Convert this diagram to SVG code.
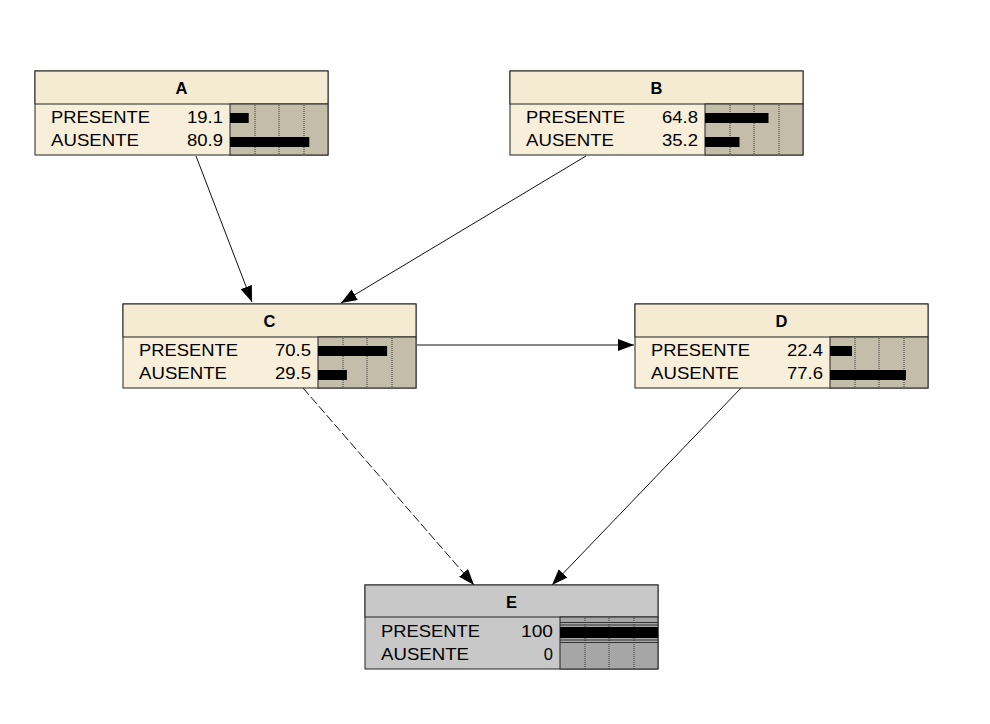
<svg xmlns="http://www.w3.org/2000/svg" width="990" height="724" viewBox="0 0 990 724">
<style>
.box{stroke:#222;stroke-width:1}
.title{fill:#f5ebd3}
.body{fill:#f8efdb}
.barbg{fill:#c4bda9}
.gtitle{fill:#c8c8c8}
.gbody{fill:#c8c8c8}
.gbarbg{fill:#a6a6a6}
.ln{stroke:#333;stroke-width:1;fill:none}
.dot{stroke:#333;stroke-width:1;stroke-dasharray:1,1}
.t{font-family:"Liberation Sans",Arial,sans-serif;font-size:16.5px;fill:#000}
.tt{font-family:"Liberation Sans",Arial,sans-serif;font-size:16.5px;font-weight:bold;fill:#000;text-anchor:middle}
.num{text-anchor:end}
.bar{fill:#000}
.edge{stroke:#111;stroke-width:1;fill:none}
</style>
<defs>
<marker id="arr" markerUnits="userSpaceOnUse" markerWidth="18" markerHeight="13" refX="16" refY="6" orient="auto">
<path d="M0,0 L16,6 L0,12 Z" fill="#000"/>
</marker>
</defs>
<rect width="990" height="724" fill="#fff"/>

<g id="connectors">
<line class="edge" x1="196" y1="156" x2="252" y2="302" marker-end="url(#arr)"/>
<line class="edge" x1="586" y1="156" x2="341" y2="303" marker-end="url(#arr)"/>
<line class="edge" x1="417" y1="345" x2="634" y2="345" marker-end="url(#arr)"/>
<line class="edge" x1="303" y1="388" x2="474" y2="585" stroke-dasharray="9,3" marker-end="url(#arr)"/>
<line class="edge" x1="741" y1="388" x2="552" y2="585" marker-end="url(#arr)"/>
</g>

<g id="node-A" transform="translate(35,71)">
<rect class="box body" x="0" y="0" width="293" height="84"/>
<rect class="box title" x="0" y="0" width="293" height="33"/>
<rect class="box barbg" x="195" y="33" width="98" height="51"/>
<line class="dot" x1="220" y1="34" x2="220" y2="84"/>
<line class="dot" x1="244" y1="34" x2="244" y2="84"/>
<line class="dot" x1="269" y1="34" x2="269" y2="84"/>
<rect class="bar" x="195" y="42" width="18.7" height="10"/>
<rect class="bar" x="195" y="66" width="79.3" height="10"/>
<text class="tt" x="146.5" y="23">A</text>
<text class="t" x="16" y="51.5" textLength="99" lengthAdjust="spacingAndGlyphs">PRESENTE</text>
<text class="t" x="16" y="74.7" textLength="88" lengthAdjust="spacingAndGlyphs">AUSENTE</text>
<text class="t num" x="188" y="51.5" textLength="36" lengthAdjust="spacingAndGlyphs">19.1</text>
<text class="t num" x="188" y="74.7" textLength="36" lengthAdjust="spacingAndGlyphs">80.9</text>
</g>

<g id="node-B" transform="translate(510,71)">
<rect class="box body" x="0" y="0" width="293" height="84"/>
<rect class="box title" x="0" y="0" width="293" height="33"/>
<rect class="box barbg" x="195" y="33" width="98" height="51"/>
<line class="dot" x1="220" y1="34" x2="220" y2="84"/>
<line class="dot" x1="244" y1="34" x2="244" y2="84"/>
<line class="dot" x1="269" y1="34" x2="269" y2="84"/>
<rect class="bar" x="195" y="42" width="63.5" height="10"/>
<rect class="bar" x="195" y="66" width="34.5" height="10"/>
<text class="tt" x="146.5" y="23">B</text>
<text class="t" x="16" y="51.5" textLength="99" lengthAdjust="spacingAndGlyphs">PRESENTE</text>
<text class="t" x="16" y="74.7" textLength="88" lengthAdjust="spacingAndGlyphs">AUSENTE</text>
<text class="t num" x="188" y="51.5" textLength="36" lengthAdjust="spacingAndGlyphs">64.8</text>
<text class="t num" x="188" y="74.7" textLength="36" lengthAdjust="spacingAndGlyphs">35.2</text>
</g>

<g id="node-C" transform="translate(123,304)">
<rect class="box body" x="0" y="0" width="293" height="84"/>
<rect class="box title" x="0" y="0" width="293" height="33"/>
<rect class="box barbg" x="195" y="33" width="98" height="51"/>
<line class="dot" x1="220" y1="34" x2="220" y2="84"/>
<line class="dot" x1="244" y1="34" x2="244" y2="84"/>
<line class="dot" x1="269" y1="34" x2="269" y2="84"/>
<rect class="bar" x="195" y="42" width="69.1" height="10"/>
<rect class="bar" x="195" y="66" width="28.9" height="10"/>
<text class="tt" x="146.5" y="23">C</text>
<text class="t" x="16" y="51.5" textLength="99" lengthAdjust="spacingAndGlyphs">PRESENTE</text>
<text class="t" x="16" y="74.7" textLength="88" lengthAdjust="spacingAndGlyphs">AUSENTE</text>
<text class="t num" x="188" y="51.5" textLength="36" lengthAdjust="spacingAndGlyphs">70.5</text>
<text class="t num" x="188" y="74.7" textLength="36" lengthAdjust="spacingAndGlyphs">29.5</text>
</g>

<g id="node-D" transform="translate(635,304)">
<rect class="box body" x="0" y="0" width="293" height="84"/>
<rect class="box title" x="0" y="0" width="293" height="33"/>
<rect class="box barbg" x="195" y="33" width="98" height="51"/>
<line class="dot" x1="220" y1="34" x2="220" y2="84"/>
<line class="dot" x1="244" y1="34" x2="244" y2="84"/>
<line class="dot" x1="269" y1="34" x2="269" y2="84"/>
<rect class="bar" x="195" y="42" width="22" height="10"/>
<rect class="bar" x="195" y="66" width="76" height="10"/>
<text class="tt" x="146.5" y="23">D</text>
<text class="t" x="16" y="51.5" textLength="99" lengthAdjust="spacingAndGlyphs">PRESENTE</text>
<text class="t" x="16" y="74.7" textLength="88" lengthAdjust="spacingAndGlyphs">AUSENTE</text>
<text class="t num" x="188" y="51.5" textLength="36" lengthAdjust="spacingAndGlyphs">22.4</text>
<text class="t num" x="188" y="74.7" textLength="36" lengthAdjust="spacingAndGlyphs">77.6</text>
</g>

<g id="node-E" transform="translate(365,585)">
<rect class="box gbody" x="0" y="0" width="293" height="84"/>
<rect class="box gtitle" x="0" y="0" width="293" height="32"/>
<rect class="box gbarbg" x="195" y="32" width="98" height="52"/>
<line class="dot" x1="220" y1="33" x2="220" y2="84"/>
<line class="dot" x1="244" y1="33" x2="244" y2="84"/>
<line class="dot" x1="269" y1="33" x2="269" y2="84"/>
<line class="ln" x1="195" y1="37.5" x2="293" y2="37.5"/>
<line class="ln" x1="195" y1="40" x2="293" y2="40"/>
<line class="ln" x1="195" y1="55" x2="293" y2="55"/>
<line class="ln" x1="195" y1="57.5" x2="293" y2="57.5"/>
<rect class="bar" x="195" y="42" width="98" height="11"/>
<text class="tt" x="146.5" y="23.3">E</text>
<text class="t" x="16" y="51.5" textLength="99" lengthAdjust="spacingAndGlyphs">PRESENTE</text>
<text class="t" x="16" y="74.7" textLength="88" lengthAdjust="spacingAndGlyphs">AUSENTE</text>
<text class="t num" x="188" y="51.5" textLength="32" lengthAdjust="spacingAndGlyphs">100</text>
<text class="t num" x="188" y="74.7">0</text>
</g>
</svg>
